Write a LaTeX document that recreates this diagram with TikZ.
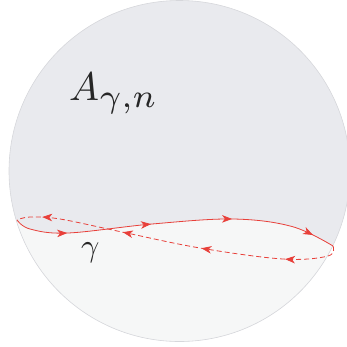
\documentclass[tikz,border=0pt]{standalone}
\usetikzlibrary{decorations.markings,arrows.meta}
\definecolor{upperfill}{HTML}{E9EAEE}
\definecolor{lowerfill}{HTML}{F6F7F7}
\definecolor{rimcol}{HTML}{D6D7DB}
\definecolor{curvered}{HTML}{E8403A}
\tikzset{
  curveline/.style={draw=curvered, line width=0.8pt},
  dashline/.style={curveline, dash pattern=on 5pt off 3pt},
  tipshape/.tip={Stealth[length=10pt,width=7.5pt,inset=2.8pt]},
  solidarrows/.style={postaction={decorate}, decoration={markings,
     mark=at position 0.165 with {\arrow{tipshape}},
     mark=at position 0.424 with {\arrow{tipshape}},
     mark=at position 0.674 with {\arrow{tipshape}},
     mark=at position 0.93 with {\arrow{tipshape}}}},
  dasharrows/.style={postaction={decorate}, decoration={markings,
     mark=at position 0.171 with {\arrow{tipshape}},
     mark=at position 0.428 with {\arrow{tipshape}},
     mark=at position 0.672 with {\arrow{tipshape}},
     mark=at position 0.922 with {\arrow{tipshape}}}},
  biglabel/.style={inner sep=0pt, anchor=base west, text=black!85}
}
\begin{document}
\begin{tikzpicture}[x=1pt,y=-1pt]
\useasboundingbox (0,0) rectangle (347,346);
\coordinate (O) at (179.5,171);
\coordinate (L) at (17,220);
\coordinate (R) at (333,246);
% disc
\fill[upperfill] (O) circle[radius=170.5];
\begin{scope}
  \clip (O) circle[radius=170.5];
  \fill[lowerfill] plot[smooth, tension=0.6] coordinates {(L) (30,229) (68,233) (152,224) (233,219) (292,226.5) (R)}
     -- (360,246) -- (360,360) -- (-10,360) -- (-10,220) -- cycle;
\end{scope}
\draw[rimcol, line width=0.6pt] (O) circle[radius=170.5];
% curve
\draw[curveline, solidarrows] plot[smooth, tension=0.6] coordinates {(L) (30,229) (68,233) (152,224) (233,219) (292,226.5) (R)};
\draw[dashline, dasharrows] plot[smooth, tension=0.6] coordinates {(R) (328,256) (283,259) (200,248) (122,232) (60,219) (30,217) (L)};
% labels
\node[biglabel] (A) at (69,100) {\scalebox{4}{$A$\kern0.1pt\raisebox{-1.8pt}{\scalebox{1.18}{$\scriptstyle\gamma,n$}}}};
\node[biglabel] (g) at (81,256) {\scalebox{3.2}{$\gamma$}};
\end{tikzpicture}
\end{document}
